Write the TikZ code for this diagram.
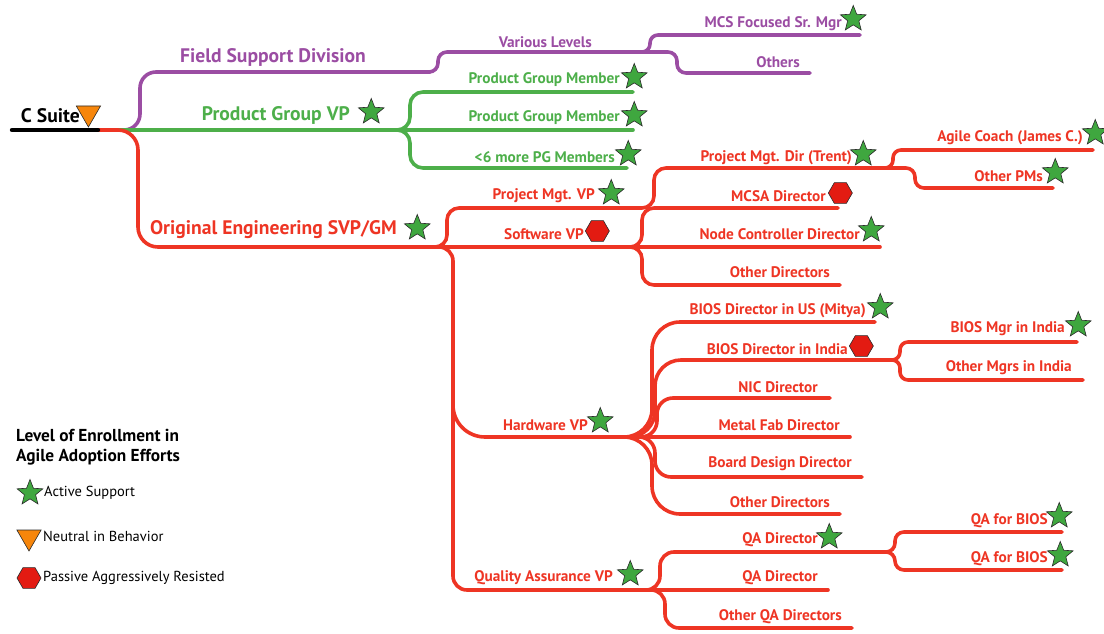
\documentclass[tikz,border=0pt]{standalone}
\usepackage{fontspec}
\setmainfont{PT Sans}
\usepackage{tikz}
\usetikzlibrary{positioning, shapes.geometric}
\definecolor{mapPurple}{HTML}{9B4DA3}
\definecolor{mapGreen}{HTML}{4DAF4A}
\definecolor{mapRed}{HTML}{EE3524}
\definecolor{starGreen}{HTML}{3FA73F}
\definecolor{hexRed}{HTML}{E31B12}
\definecolor{triOrange}{HTML}{F7860B}
\definecolor{edgeDark}{HTML}{2A2A2A}

\begin{document}
\begin{tikzpicture}[
  x=1pt, y=-1pt,
  branch/.style={line width=3.6pt, line cap=round, draw=#1},
  lbl/.style={text=#1, inner sep=0pt, anchor=east,
              font=\fontsize{15.3}{17}\selectfont\bfseries},
  biglbl/.style={text=#1, inner sep=0pt, anchor=east,
                 font=\fontsize{19.6}{22}\selectfont\bfseries},
  okstar/.style={star, star points=5, star point ratio=2.3, minimum size=27pt,
                 inner sep=0pt, fill=starGreen, draw=edgeDark, line width=0.6pt},
  resisthex/.style={regular polygon, regular polygon sides=6, minimum size=24pt,
                    inner sep=0pt, fill=hexRed, draw=edgeDark, line width=0.6pt},
  neutraltri/.style={regular polygon, regular polygon sides=3, shape border rotate=180,
                     minimum size=28pt, inner sep=0pt, fill=triOrange, draw=edgeDark,
                     line width=0.6pt},
  legtext/.style={inner sep=0pt, anchor=west, font=\fontsize{14.5}{17}\selectfont}
]
\useasboundingbox (0,0) rectangle (1104,634);

% branch points and line ends
\coordinate (rootS) at (12,130);
\coordinate (rootE) at (98,130);
\coordinate (split0) at (92,130);
\coordinate (fsdE) at (430,72);
\coordinate (varE) at (645,52);
\coordinate (varS) at (640,52);
\coordinate (mcsE) at (860,35);
\coordinate (othE) at (810,73);
\coordinate (pgvpE) at (395,130);
\coordinate (pgmA) at (633,92);
\coordinate (pgmB) at (633,130);
\coordinate (pgmC) at (627,168);
\coordinate (oeE) at (432,247);
\coordinate (swS) at (628,247);
\coordinate (swE) at (640,247);
\coordinate (pmvpE) at (640,208);
\coordinate (pmdS) at (880,168);
\coordinate (pmdE) at (893,168);
\coordinate (acE) at (1093,150);
\coordinate (opmE) at (1053,188);
\coordinate (mcsaE) at (838,208);
\coordinate (ncdE) at (880,247);
\coordinate (odE) at (840,285);
\coordinate (trunkM) at (453,330);
\coordinate (hwS) at (605,437);
\coordinate (hwE) at (620,437);
\coordinate (busE) at (875,322);
\coordinate (bindS) at (885,360);
\coordinate (bindE) at (893,360);
\coordinate (bmiE) at (1077,342);
\coordinate (omiE) at (1083,380);
\coordinate (nicE) at (830,398);
\coordinate (mfE) at (850,437);
\coordinate (bdE) at (862,477);
\coordinate (odhE) at (840,514);
\coordinate (qaS) at (640,590);
\coordinate (qaE) at (650,590);
\coordinate (qadS) at (880,552);
\coordinate (qadE) at (890,552);
\coordinate (qad2E) at (828,590);
\coordinate (oqaE) at (852,628);
\coordinate (qb1E) at (1062,532);
\coordinate (qb2E) at (1062,570);

% purple: field support
\draw[branch=mapPurple, rounded corners=16pt] (split0) -- ++(48,0) |- (fsdE);
\draw[branch=mapPurple, rounded corners=9pt] (fsdE) -- ++(8,0) |- (varE);
\draw[branch=mapPurple, rounded corners=8pt] (varS) -- ++(10,0) |- (mcsE);
\draw[branch=mapPurple, rounded corners=9pt] (varS) -- ++(37,0) |- (othE);

% green: product group
\draw[branch=mapGreen] (split0) -- (pgmB);
\draw[branch=mapGreen, rounded corners=13pt] (pgvpE) -- ++(15,0) |- (pgmA);
\draw[branch=mapGreen, rounded corners=13pt] (pgvpE) -- ++(15,0) |- (pgmC);

% red: engineering
\draw[branch=mapRed, rounded corners=20pt] (split0) -- ++(46,0) |- (swE);
\draw[branch=mapRed, rounded corners=12pt] (oeE) -- ++(15,0) |- (pmvpE);
\draw[branch=mapRed, rounded corners=12pt] (pmvpE) -- ++(14,0) |- (pmdE);
\draw[branch=mapRed, rounded corners=8pt] (pmdS) -- ++(13,0) |- (acE);
\draw[branch=mapRed, rounded corners=9pt] (pmdS) -- ++(35,0) |- (opmE);
\draw[branch=mapRed, rounded corners=12pt] (swS) -- ++(14,0) |- (mcsaE);
\draw[branch=mapRed] (swE) -- (ncdE);
\draw[branch=mapRed, rounded corners=12pt] (swS) -- ++(14,0) |- (odE);
\draw[branch=mapRed, rounded corners=14pt] (oeE) -- ++(21,0) |- (qaE);
\draw[branch=mapRed, rounded corners=32pt] (trunkM) |- (hwE);

\draw[branch=mapRed, rounded corners=28pt] (hwS) -- ++(47,0) |- (busE);
\draw[branch=mapRed, rounded corners=26pt] (hwS) -- ++(50,0) |- (bindE);
\draw[branch=mapRed, rounded corners=16pt] (hwS) -- ++(52,0) |- (nicE);
\draw[branch=mapRed] (hwS) -- (mfE);
\draw[branch=mapRed, rounded corners=16pt] (hwS) -- ++(50,0) |- (bdE);
\draw[branch=mapRed, rounded corners=28pt] (hwS) -- ++(47,0) |- (odhE);
\draw[branch=mapRed, rounded corners=8pt] (bindS) -- ++(15,0) |- (bmiE);
\draw[branch=mapRed, rounded corners=8pt] (bindS) -- ++(15,0) |- (omiE);

\draw[branch=mapRed, rounded corners=14pt] (qaS) -- ++(20,0) |- (qadE);
\draw[branch=mapRed] (qaE) -- (qad2E);
\draw[branch=mapRed, rounded corners=14pt] (qaS) -- ++(25,0) |- (oqaE);
\draw[branch=mapRed, rounded corners=9pt] (qadS) -- ++(15,0) |- (qb1E);
\draw[branch=mapRed, rounded corners=9pt] (qadS) -- ++(15,0) |- (qb2E);

% root
\draw[line width=4.4pt, line cap=round] (rootS) -- (rootE);
\node[lbl=black, font=\fontsize{19.6}{22}\selectfont\bfseries] (csuite) at (80,116) {C Suite};
\node[neutraltri, right=0pt of csuite, yshift=3pt] (csuiteT) {};

% labels
\node[biglbl=mapPurple] (fsd) at (366,57) {Field Support Division};
\node[lbl=mapPurple] (var) at (592,42) {Various Levels};
\node[lbl=mapPurple] (mcs) at (842,24) {MCS Focused Sr. Mgr};
\node[okstar, right=3pt of mcs, yshift=5pt] (mcsT) {};
\node[lbl=mapPurple] (oth) at (800,62) {Others};

\node[biglbl=mapGreen] (pgvp) at (350,115) {Product Group VP};
\node[okstar, right=13pt of pgvp, yshift=3pt] (pgvpT) {};
\node[lbl=mapGreen] (pgm1) at (620,80) {Product Group Member};
\node[okstar, right=6pt of pgm1, yshift=3pt] (pgm1T) {};
\node[lbl=mapGreen] (pgm2) at (620,118) {Product Group Member};
\node[okstar, right=6pt of pgm2, yshift=3pt] (pgm2T) {};
\node[lbl=mapGreen] (pgm3) at (615,157) {<6 more PG Members};
\node[okstar, right=5pt of pgm3, yshift=3pt] (pgm3T) {};

\node[biglbl=mapRed] (oe) at (397,230) {Original Engineering SVP/GM};
\node[okstar, right=12pt of oe, yshift=2pt] (oeT) {};
\node[lbl=mapRed] (pmvp) at (595,196) {Project Mgt. VP};
\node[okstar, right=8pt of pmvp, yshift=3pt] (pmvpT) {};
\node[lbl=mapRed] (sw) at (584,234) {Software VP};
\node[resisthex, right=1pt of sw, yshift=3pt] (swT) {};
\node[lbl=mapRed] (pmd) at (852,158) {Project Mgt. Dir (Trent)};
\node[okstar, right=3pt of pmd, yshift=4pt] (pmdT) {};
\node[lbl=mapRed] (ac) at (1083,138) {Agile Coach (James C.)};
\node[okstar, right=4pt of ac, yshift=5pt] (acT) {};
\node[lbl=mapRed] (opm) at (1043,176) {Other PMs};
\node[okstar, right=4pt of opm, yshift=4pt] (opmT) {};
\node[lbl=mapRed] (mcsa) at (826,196) {MCSA Director};
\node[resisthex, right=2pt of mcsa, yshift=3pt] (mcsaT) {};
\node[lbl=mapRed] (ncd) at (860,234) {Node Controller Director};
\node[okstar, right=3pt of ncd, yshift=4pt] (ncdT) {};
\node[lbl=mapRed] (od) at (830,272) {Other Directors};

\node[lbl=mapRed] (hw) at (588,425) {Hardware VP};
\node[okstar, right=4pt of hw, yshift=4pt] (hwT) {};
\node[lbl=mapRed] (bus) at (866,311) {BIOS Director in US (Mitya)};
\node[okstar, right=6pt of bus, yshift=4pt] (busT) {};
\node[lbl=mapRed] (bind) at (848,349) {BIOS Director in India};
\node[resisthex, right=1pt of bind, yshift=3pt] (bindT) {};
\node[lbl=mapRed] (bmi) at (1065,329) {BIOS Mgr in India};
\node[okstar, right=5pt of bmi, yshift=4pt] (bmiT) {};
\node[lbl=mapRed] (omi) at (1072,368) {Other Mgrs in India};
\node[lbl=mapRed] (nic) at (818,387) {NIC Director};
\node[lbl=mapRed] (mf) at (840,425) {Metal Fab Director};
\node[lbl=mapRed] (bd) at (852,464) {Board Design Director};
\node[lbl=mapRed] (odh) at (830,502) {Other Directors};

\node[lbl=mapRed] (qa) at (613,578) {Quality Assurance VP};
\node[okstar, right=9pt of qa, yshift=4pt] (qaT) {};
\node[lbl=mapRed] (qad) at (818,540) {QA Director};
\node[okstar, right=3pt of qad, yshift=3pt] (qadT) {};
\node[lbl=mapRed] (qb1) at (1048,521) {QA for BIOS};
\node[okstar, right=3pt of qb1, yshift=5pt] (qb1T) {};
\node[lbl=mapRed] (qb2) at (1048,559) {QA for BIOS};
\node[okstar, right=4pt of qb2, yshift=4pt] (qb2T) {};
\node[lbl=mapRed] (qad2) at (818,578) {QA Director};
\node[lbl=mapRed] (oqa) at (842,617) {Other QA Directors};

% legend
\node[inner sep=0pt, anchor=north west, align=left,
      font=\fontsize{17.3}{20}\selectfont\bfseries] (legtitle) at (16,429)
  {Level of Enrollment in\\Agile Adoption Efforts};
\node[okstar] (legstar) at (30,493) {};
\node[legtext, anchor=west] (legstarT) at (44,493) {Active Support};
\node[neutraltri] (legtri) at (29,537) {};
\node[legtext, anchor=west] (legtriT) at (43,536) {Neutral in Behavior};
\node[resisthex] (leghex) at (29,578) {};
\node[legtext, anchor=west] (leghexT) at (43,578) {Passive Aggressively Resisted};
\end{tikzpicture}
\end{document}
